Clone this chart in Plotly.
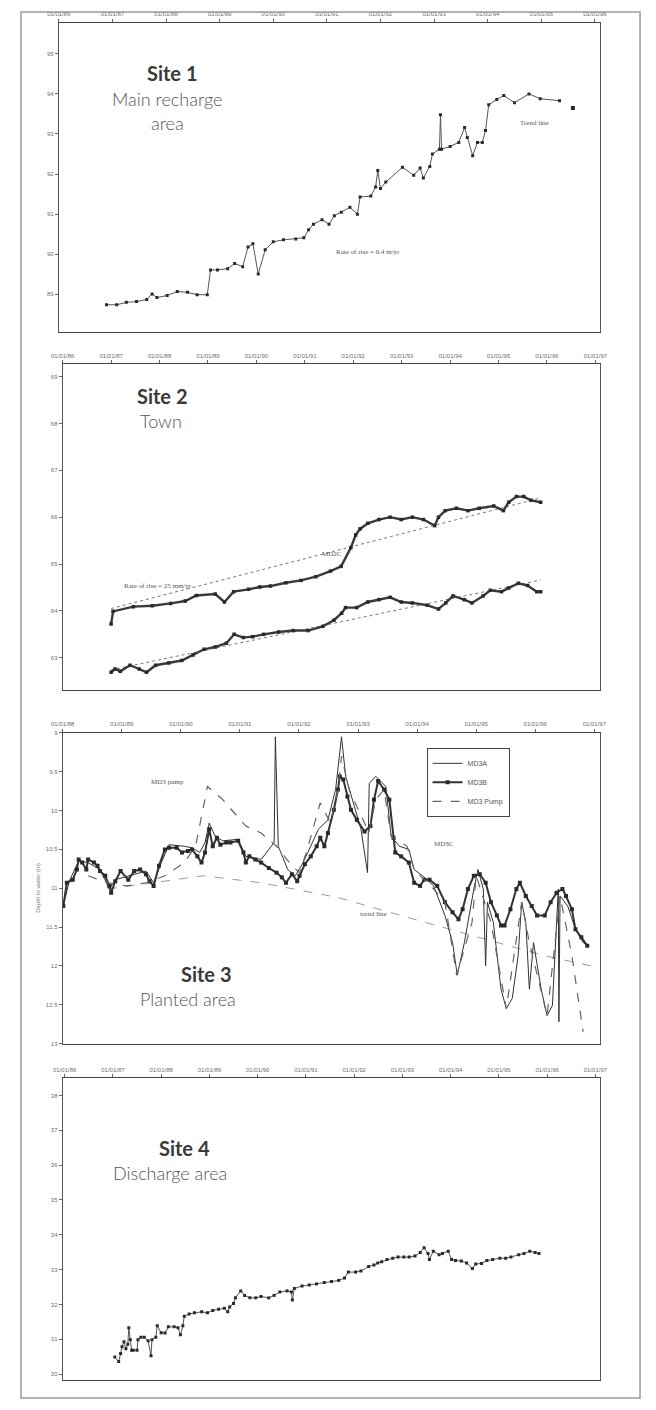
import plotly.graph_objects as go

# ---------------- data ----------------
# Site 1 - main recharge area (water level, m)
s1_x = [86.89, 87.08, 87.26, 87.45, 87.64, 87.74, 87.83, 88.02, 88.21, 88.40, 88.58, 88.77, 88.83, 88.96, 89.15,
        89.28, 89.43, 89.53, 89.62, 89.72, 89.85, 90.00, 90.19, 90.42, 90.57, 90.66, 90.75, 90.91, 91.04, 91.14,
        91.27, 91.43, 91.57, 91.62, 91.82, 91.91, 91.95, 92.00, 92.10, 92.41, 92.62, 92.74, 92.80, 92.92, 92.97,
        93.10, 93.12, 93.14, 93.30, 93.46, 93.57, 93.62, 93.72, 93.81, 93.90, 93.96, 94.02, 94.17, 94.30, 94.50,
        94.77, 94.98, 95.34]
s1_y = [88.74, 88.74, 88.80, 88.82, 88.87, 89.01, 88.92, 88.97, 89.07, 89.05, 88.99, 88.99, 89.61, 89.61, 89.64,
        89.77, 89.69, 90.18, 90.26, 89.51, 90.11, 90.31, 90.36, 90.38, 90.41, 90.61, 90.75, 90.86, 90.75, 90.96,
        91.05, 91.17, 91.00, 91.43, 91.45, 91.68, 92.09, 91.64, 91.80, 92.17, 91.97, 92.15, 91.90, 92.19, 92.50,
        92.62, 93.48, 92.62, 92.69, 92.79, 93.16, 92.91, 92.46, 92.79, 92.79, 93.09, 93.73, 93.86, 93.96, 93.78,
        94.00, 93.88, 93.83]
s1_last_x = [95.59]
s1_last_y = [93.65]

# Site 2 - town
s2c_x = [87.00, 87.04, 87.46, 87.85, 88.23, 88.53, 88.76, 89.15, 89.34, 89.53, 89.84, 90.07, 90.29, 90.61, 90.92,
         91.23, 91.53, 91.75, 91.95, 92.05, 92.14, 92.30, 92.53, 92.76, 92.99, 93.22, 93.45, 93.68, 93.76, 93.90,
         94.13, 94.37, 94.60, 94.90, 95.10, 95.21, 95.37, 95.52, 95.67, 95.87]
s2c_y = [63.72, 63.99, 64.09, 64.11, 64.16, 64.21, 64.33, 64.36, 64.19, 64.41, 64.46, 64.51, 64.53, 64.60, 64.65,
         64.73, 64.85, 64.95, 65.35, 65.62, 65.75, 65.87, 65.95, 66.00, 65.95, 66.00, 65.95, 65.82, 66.00, 66.14,
         66.19, 66.14, 66.19, 66.24, 66.14, 66.32, 66.44, 66.44, 66.36, 66.32]
s2b_x = [87.00, 87.08, 87.19, 87.39, 87.58, 87.73, 87.92, 88.19, 88.46, 88.69, 88.92, 89.15, 89.38, 89.54, 89.73,
         89.92, 90.15, 90.46, 90.76, 91.07, 91.37, 91.60, 91.76, 91.84, 92.07, 92.30, 92.53, 92.76, 92.99, 93.22,
         93.53, 93.76, 93.91, 94.06, 94.29, 94.45, 94.68, 94.83, 95.06, 95.21, 95.41, 95.60, 95.79, 95.87]
s2b_y = [62.69, 62.76, 62.71, 62.84, 62.76, 62.69, 62.84, 62.89, 62.94, 63.06, 63.18, 63.23, 63.31, 63.50, 63.43,
         63.45, 63.50, 63.55, 63.58, 63.58, 63.67, 63.80, 63.95, 64.07, 64.07, 64.19, 64.24, 64.29, 64.19, 64.17,
         64.12, 64.04, 64.17, 64.32, 64.24, 64.17, 64.32, 64.44, 64.41, 64.49, 64.59, 64.54, 64.41, 64.41]
s2c_trend_x = [87.00, 95.87]
s2c_trend_y = [64.05, 66.41]
s2b_trend_x = [87.00, 95.87]
s2b_trend_y = [62.74, 64.66]

# Site 3 - planted area (depth to water, m)
s3b_x = [88.01, 88.07, 88.17, 88.24, 88.27, 88.33, 88.40, 88.43, 88.53, 88.59, 88.63, 88.72, 88.79, 88.82, 88.89,
         88.98, 89.11, 89.21, 89.31, 89.41, 89.47, 89.54, 89.63, 89.73, 89.80, 89.93, 90.02, 90.12, 90.19, 90.28,
         90.35, 90.41, 90.48, 90.54, 90.61, 90.67, 90.77, 90.84, 90.97, 91.06, 91.10, 91.16, 91.26, 91.36, 91.49,
         91.62, 91.71, 91.78, 91.88, 91.97, 92.01, 92.10, 92.20, 92.30, 92.36, 92.43, 92.49, 92.59, 92.66, 92.69,
         92.75, 92.82, 92.88, 92.98, 93.11, 93.21, 93.27, 93.34, 93.44, 93.53, 93.60, 93.63, 93.73, 93.86, 93.95,
         94.05, 94.12, 94.21, 94.34, 94.47, 94.60, 94.70, 94.77, 94.86, 94.96, 95.06, 95.16, 95.25, 95.35, 95.42,
         95.48, 95.58, 95.68, 95.74, 95.84, 95.94, 96.03, 96.16, 96.26, 96.36, 96.46, 96.52, 96.62, 96.68, 96.78,
         96.88]
s3b_y = [11.23, 10.93, 10.89, 10.76, 10.63, 10.67, 10.76, 10.63, 10.67, 10.71, 10.78, 10.84, 10.97, 11.06, 10.91,
         10.78, 10.89, 10.78, 10.76, 10.82, 10.91, 10.97, 10.71, 10.50, 10.48, 10.48, 10.54, 10.52, 10.50, 10.59,
         10.67, 10.54, 10.24, 10.46, 10.35, 10.44, 10.41, 10.41, 10.39, 10.54, 10.67, 10.59, 10.63, 10.67, 10.74,
         10.80, 10.86, 10.93, 10.82, 10.91, 10.84, 10.69, 10.59, 10.46, 10.35, 10.46, 10.29, 9.99, 9.73, 9.56,
         9.60, 9.82, 9.99, 10.12, 10.27, 10.20, 9.86, 9.62, 9.73, 9.86, 10.35, 10.54, 10.59, 10.67, 10.93,
         10.97, 10.89, 10.89, 10.97, 11.18, 11.31, 11.40, 11.27, 11.01, 10.84, 10.82, 10.93, 11.18, 11.35, 11.48,
         11.48, 11.27, 11.01, 10.93, 11.10, 11.23, 11.35, 11.35, 11.18, 11.06, 11.01, 11.10, 11.27, 11.53, 11.63,
         11.74]
s3a_x = [88.01, 88.11, 88.27, 88.43, 88.63, 88.79, 88.89, 89.15, 89.41, 89.54, 89.67, 89.80, 90.06, 90.19, 90.32,
         90.41, 90.48, 90.58, 90.71, 90.97, 91.10, 91.36, 91.58, 91.60, 91.65, 91.81, 91.94, 92.07, 92.20, 92.33,
         92.49, 92.62, 92.72, 92.79, 92.92, 93.05, 93.16, 93.19, 93.30, 93.47, 93.56, 93.70, 93.86, 93.95, 94.09,
         94.28, 94.47, 94.60, 94.68, 94.80, 94.96, 95.03, 95.12, 95.16, 95.19, 95.29, 95.42, 95.51, 95.61, 95.71,
         95.77, 95.84, 95.90, 95.97, 96.10, 96.20, 96.29, 96.36, 96.39, 96.40, 96.42, 96.55, 96.68, 96.81, 96.88]
s3a_y = [11.23, 10.91, 10.65, 10.67, 10.76, 11.01, 10.89, 10.84, 10.78, 10.93, 10.67, 10.44, 10.46, 10.48, 10.54,
         10.41, 10.16, 10.33, 10.39, 10.37, 10.59, 10.63, 10.41, 9.05, 10.46, 10.76, 10.84, 10.67, 10.46, 10.24,
         10.12, 9.73, 9.05, 9.56, 9.90, 10.24, 10.80, 9.65, 9.56, 9.69, 10.33, 10.46, 10.50, 10.76, 10.84,
         10.97, 11.35, 11.70, 12.12, 11.70, 11.01, 10.76, 11.01, 12.00, 11.18, 11.44, 12.30, 12.55, 12.42, 11.87,
         11.18, 11.44, 12.30, 11.70, 12.30, 12.64, 12.51, 11.44, 11.01, 12.72, 11.10, 11.23, 11.53, 11.70, 11.74]
s3p_x = [88.43, 88.76, 89.08, 89.41, 89.73, 90.06, 90.25, 90.45, 90.71, 90.90, 91.10, 91.36, 91.62, 91.88, 92.01,
         92.14, 92.36, 92.53, 92.66, 92.72, 92.85, 93.11, 93.18, 93.30, 93.44, 93.56, 93.83, 93.95, 94.28, 94.47,
         94.67, 94.93, 95.00, 95.25, 95.51, 95.77, 95.90, 96.20, 96.42, 96.62, 96.81]
s3p_y = [10.84, 10.93, 10.97, 10.93, 10.84, 10.67, 10.46, 9.69, 9.86, 10.03, 10.20, 10.29, 10.46, 10.71, 10.80,
         10.50, 9.90, 10.16, 9.73, 9.30, 9.73, 10.16, 10.29, 9.86, 9.73, 10.33, 10.46, 10.76, 11.01, 11.18,
         12.12, 11.44, 10.84, 11.44, 12.55, 11.18, 11.70, 12.64, 11.10, 11.87, 12.85]
s3_trend_x = [88.76, 90.38, 91.36, 92.66, 93.95, 96.16, 96.94]
s3_trend_y = [11.01, 10.84, 10.93, 11.12, 11.40, 11.87, 12.00]

# Site 4 - discharge area
s4_x = [87.04, 87.12, 87.16, 87.19, 87.23, 87.27, 87.31, 87.33, 87.36, 87.39, 87.42, 87.50, 87.52, 87.58, 87.65,
        87.73, 87.79, 87.81, 87.89, 87.92, 88.00, 88.08, 88.15, 88.27, 88.35, 88.40, 88.45, 88.48, 88.58, 88.69,
        88.84, 88.96, 89.07, 89.19, 89.31, 89.38, 89.42, 89.50, 89.54, 89.65, 89.73, 89.84, 89.96, 90.07, 90.23,
        90.34, 90.46, 90.61, 90.70, 90.72, 90.76, 90.92, 91.07, 91.22, 91.38, 91.53, 91.68, 91.80, 91.88, 92.03,
        92.14, 92.30, 92.41, 92.49, 92.57, 92.68, 92.80, 92.91, 93.03, 93.14, 93.26, 93.37, 93.45, 93.53, 93.56,
        93.64, 93.76, 93.83, 93.95, 94.02, 94.10, 94.22, 94.33, 94.45, 94.52, 94.64, 94.75, 94.87, 95.02, 95.14,
        95.25, 95.41, 95.52, 95.64, 95.75, 95.83]
s4_y = [30.49, 30.36, 30.59, 30.79, 30.93, 30.73, 30.86, 31.33, 30.99, 30.69, 30.69, 30.69, 30.99, 31.06, 31.06,
        30.96, 30.53, 30.99, 31.06, 31.39, 31.19, 31.18, 31.36, 31.36, 31.33, 31.13, 31.39, 31.66, 31.73, 31.76,
        31.79, 31.76, 31.83, 31.86, 31.89, 31.79, 31.93, 32.03, 32.19, 32.39, 32.26, 32.19, 32.19, 32.23, 32.19,
        32.26, 32.36, 32.39, 32.36, 32.13, 32.46, 32.53, 32.56, 32.59, 32.63, 32.66, 32.69, 32.76, 32.93, 32.93,
        32.96, 33.09, 33.13, 33.19, 33.23, 33.29, 33.33, 33.36, 33.36, 33.36, 33.39, 33.49, 33.63, 33.46, 33.29,
        33.53, 33.43, 33.46, 33.53, 33.29, 33.26, 33.25, 33.19, 33.03, 33.16, 33.18, 33.26, 33.29, 33.33, 33.33,
        33.36, 33.43, 33.46, 33.53, 33.49, 33.46]

# tick labels
p1_xticks = [86, 87, 88, 89, 90, 91, 92, 93, 94, 95, 96]
p1_xlabels = ["01/01/86", "01/01/87", "01/01/88", "01/01/89", "01/01/90", "01/01/91", "01/01/92", "01/01/93",
              "01/01/94", "01/01/95", "01/01/96"]
p2_xticks = [86, 87, 88, 89, 90, 91, 92, 93, 94, 95, 96, 97]
p2_xlabels = ["01/01/86", "01/01/87", "01/01/88", "01/01/89", "01/01/90", "01/01/91", "01/01/92", "01/01/93",
              "01/01/94", "01/01/95", "01/01/96", "01/01/97"]
p3_xticks = [88, 89, 90, 91, 92, 93, 94, 95, 96, 97]
p3_xlabels = ["01/01/88", "01/01/89", "01/01/90", "01/01/91", "01/01/92", "01/01/93", "01/01/94", "01/01/95",
              "01/01/96", "01/01/97"]
p1_yticks = [88, 89, 90, 91, 92, 93, 94, 95]
p2_yticks = [63, 64, 65, 66, 67, 68, 69]
p3_yticks = [9.0, 9.5, 10.0, 10.5, 11.0, 11.5, 12.0, 12.5, 13.0]
p4_yticks = [30, 31, 32, 33, 34, 35, 36, 37, 38]

# ---------------- layout helpers ----------------
W, H, OFF = 640, 1394, 8


def fx(p):
    return (p - OFF) / W


def fy(p):
    return 1 - (p - OFF) / H


INK = "#2a2a2a"
TICKF = dict(size=6, color="#6e6e6e", family="Liberation Sans")

fig = go.Figure()

# Site 1
fig.add_trace(go.Scatter(x=s1_x, y=s1_y, mode="lines+markers", xaxis="x", yaxis="y", showlegend=False,
                         line=dict(color="#555", width=1), marker=dict(symbol="square", size=3, color=INK)))
fig.add_trace(go.Scatter(x=s1_last_x, y=s1_last_y, mode="markers", xaxis="x", yaxis="y", showlegend=False,
                         marker=dict(symbol="square", size=4, color=INK)))

# Site 2
for tx, ty in [(s2c_trend_x, s2c_trend_y), (s2b_trend_x, s2b_trend_y)]:
    fig.add_trace(go.Scatter(x=tx, y=ty, mode="lines", xaxis="x2", yaxis="y2", showlegend=False,
                             line=dict(color="#777", width=1, dash="dot")))
for sx, sy in [(s2c_x, s2c_y), (s2b_x, s2b_y)]:
    fig.add_trace(go.Scatter(x=sx, y=sy, mode="lines+markers", xaxis="x2", yaxis="y2", showlegend=False,
                             line=dict(color="#3a3a3a", width=2.4), marker=dict(symbol="square", size=3.5, color=INK)))

# Site 3
fig.add_trace(go.Scatter(x=s3_trend_x, y=s3_trend_y, mode="lines", xaxis="x3", yaxis="y3", showlegend=False,
                         line=dict(color="#9a9a9a", width=1, dash="dash")))
fig.add_trace(go.Scatter(x=s3a_x, y=s3a_y, mode="lines", xaxis="x3", yaxis="y3", name="MD3A",
                         line=dict(color="#333", width=1)))
fig.add_trace(go.Scatter(x=s3b_x, y=s3b_y, mode="lines+markers", xaxis="x3", yaxis="y3", name="MD3B",
                         line=dict(color="#333", width=2), marker=dict(symbol="square", size=4, color=INK)))
fig.add_trace(go.Scatter(x=s3p_x, y=s3p_y, mode="lines", xaxis="x3", yaxis="y3", name="MD3 Pump",
                         line=dict(color="#666", width=1.2, dash="dash")))

# Site 4
fig.add_trace(go.Scatter(x=s4_x, y=s4_y, mode="lines+markers", xaxis="x4", yaxis="y4", showlegend=False,
                         line=dict(color="#555", width=1), marker=dict(symbol="square", size=3, color=INK)))


def xax(dom, rng, tv, tt):
    return dict(domain=[fx(dom[0]), fx(dom[1])], range=rng, side="top", tickvals=tv, ticktext=tt,
                showline=True, mirror=True, linecolor="#444", linewidth=1.3, ticks="outside", ticklen=3,
                tickcolor="#666", tickfont=TICKF, showgrid=False, zeroline=False, fixedrange=True)


def yax(dom, rng, tv, anchor):
    return dict(domain=[fy(dom[1]), fy(dom[0])], range=rng, tickvals=tv, anchor=anchor,
                showline=True, mirror=True, linecolor="#555", linewidth=1, ticks="outside", ticklen=3,
                tickcolor="#666", tickfont=TICKF, showgrid=False, zeroline=False, fixedrange=True)


layout = dict(
    width=W, height=H, margin=dict(l=0, r=0, t=0, b=0),
    paper_bgcolor="white", plot_bgcolor="white",
    xaxis=dict(xax((48, 606), [86, 96.1], p1_xticks, p1_xlabels), anchor="y"),
    yaxis=yax((20, 330), [88.07, 95.77], p1_yticks, "x"),
    xaxis2=dict(xax((52, 606), [86, 97.1], p2_xticks, p2_xlabels), anchor="y2"),
    yaxis2=yax((363, 690), [62.31, 69.26], p2_yticks, "x2"),
    xaxis3=dict(xax((52, 606), [88, 97.1], p3_xticks, p3_xlabels), anchor="y3"),
    yaxis3=yax((733, 1045), [13, 9], p3_yticks, "x3"),
    xaxis4=dict(xax((52, 606), [85.96, 97.1], p2_xticks, p2_xlabels), anchor="y4"),
    yaxis4=yax((1080, 1383), [29.83, 38.49], p4_yticks, "x4"),
    legend=dict(x=fx(427), y=fy(748), xanchor="left", yanchor="top", bgcolor="white",
                bordercolor="#444", borderwidth=1, font=dict(size=7, color="#555", family="Liberation Sans"),
                itemwidth=30, tracegroupgap=2),
    shapes=[dict(type="rect", xref="paper", yref="paper", x0=fx(9), x1=fx(647), y0=fy(1401), y1=fy(9),
                 line=dict(color="#9a9a9a", width=1.5))],
)

ann = []


def title(x, y, text, size, weight, color):
    ann.append(dict(x=fx(x), y=fy(y), xref="paper", yref="paper", text=text, showarrow=False,
                    xanchor="center", yanchor="middle",
                    font=dict(family="Lato", size=size, color=color, weight=weight)))


def small(x, y, text, size=7):
    ann.append(dict(x=fx(x), y=fy(y), xref="paper", yref="paper", text=text, showarrow=False,
                    xanchor="center", yanchor="middle",
                    font=dict(family="Liberation Serif", size=size, color="#555")))


title(165, 70, "Site 1", 20, 700, "#3a3a3a")
title(160, 96, "Main recharge", 18, 300, "#555")
title(160, 120, "area", 18, 300, "#555")
small(367, 250, "Rate of rise = 0.4 m/yr")
small(538, 120, "Trend line")

title(155, 395, "Site 2", 20, 700, "#3a3a3a")
title(153, 420, "Town", 18, 300, "#555")
small(330, 553, "MD2C")
small(150, 585, "Rate of rise = 25 mm/yr")

title(200, 975, "Site 3", 20, 700, "#3a3a3a")
title(181, 1000, "Planted area", 18, 300, "#555")
small(160, 782, "MD3 pump")
small(445, 845, "MD3C")
small(372, 915, "trend line")
ann.append(dict(x=fx(22), y=fy(889), xref="paper", yref="paper", text="Depth to water (m)", showarrow=False,
                textangle=-90, font=dict(size=6, color="#777", family="Liberation Sans")))

title(178, 1150, "Site 4", 20, 700, "#3a3a3a")
title(163, 1175, "Discharge area", 18, 300, "#555")

layout["annotations"] = ann
fig.update_layout(**layout)
fig.write_html("out.html")
